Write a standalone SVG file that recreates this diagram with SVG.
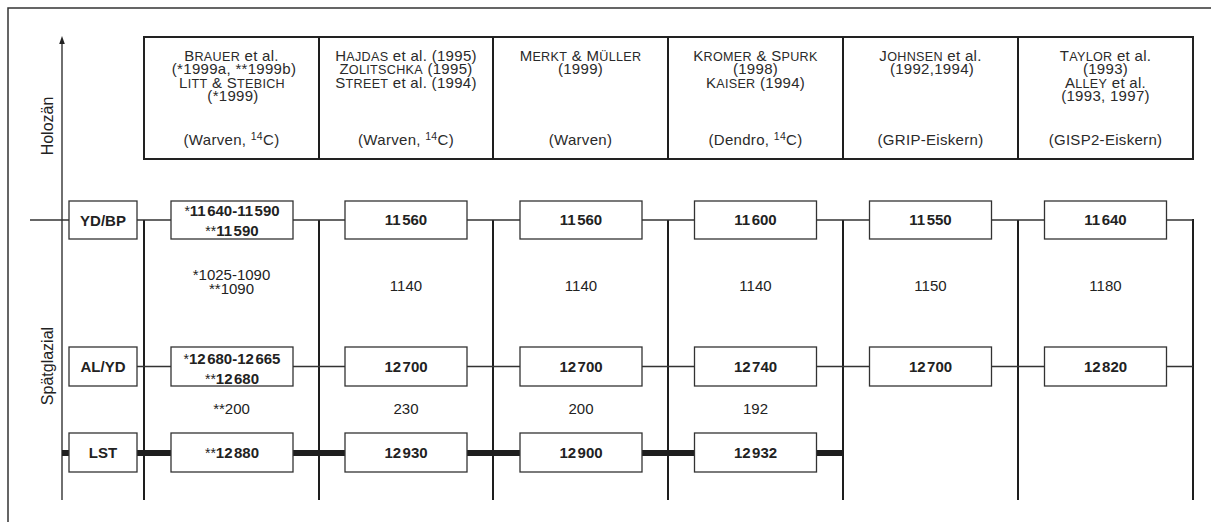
<svg xmlns="http://www.w3.org/2000/svg" width="1211" height="522" viewBox="0 0 1211 522">
<style>
text{font-family:"Liberation Sans",Arial,Helvetica,sans-serif;fill:#222;text-anchor:middle}
.h{font-size:15px;letter-spacing:0.3px;fill:#2a2a2a}
.sc{font-size:12.6px}
.sup{font-size:10.5px}
.v{font-size:16px}
.b{font-size:15px;font-weight:bold}
.a{font-weight:normal;font-size:14px}
.r{font-size:15px}
.box{fill:#fff;stroke:#333;stroke-width:1.3}
.hdr{fill:#fff;stroke:#222;stroke-width:2}
.col{stroke:#1e1e1e;stroke-width:2;fill:none}
.thin{stroke:#333;stroke-width:1.4;fill:none}
.thick{stroke:#1e1e1e;stroke-width:6;fill:none}
</style>
<rect x="8" y="8" width="1215" height="530" fill="#fff" stroke="#333" stroke-width="1.5"/>

<g id="axis">
<line class="thin" x1="62" y1="500" x2="62" y2="42"/>
<polygon points="62,36 59.2,44 64.8,44" fill="#222"/>
<text class="v" transform="translate(53,126) rotate(-90)">Holozän</text>
<text class="v" transform="translate(53,366) rotate(-90)">Spätglazial</text>
</g>

<g id="connectors">
<line class="col" x1="144" y1="220" x2="144" y2="500"/>
<line class="col" x1="319" y1="220" x2="319" y2="500"/>
<line class="col" x1="493" y1="220" x2="493" y2="500"/>
<line class="col" x1="668" y1="220" x2="668" y2="500"/>
<line class="col" x1="843" y1="220" x2="843" y2="500"/>
<line class="col" x1="1018" y1="220" x2="1018" y2="500"/>
<line class="col" x1="1193" y1="219" x2="1193" y2="500"/>
<line class="thin" x1="30" y1="220" x2="1193" y2="220"/>
<line class="thin" x1="137" y1="366.5" x2="1193" y2="366.5"/>
<line class="thick" x1="62" y1="453" x2="843" y2="453"/>
</g>

<g id="header">
<rect class="hdr" x="144" y="37" width="1049" height="122"/>
<line class="col" x1="319" y1="37" x2="319" y2="159"/>
<line class="col" x1="493" y1="37" x2="493" y2="159"/>
<line class="col" x1="668" y1="37" x2="668" y2="159"/>
<line class="col" x1="843" y1="37" x2="843" y2="159"/>
<line class="col" x1="1018" y1="37" x2="1018" y2="159"/>
</g>

<g id="h1">
<text class="h" x="231.5" y="60.5">B<tspan class="sc">RAUER</tspan> et al.</text>
<text class="h" x="234" y="74">(*1999a, **1999b)</text>
<text class="h" x="232" y="87.5">L<tspan class="sc">ITT</tspan> &amp; S<tspan class="sc">TEBICH</tspan></text>
<text class="h" x="233" y="101">(*1999)</text>
<text class="h" x="231.5" y="145">(Warven, <tspan class="sup" dy="-5">14</tspan><tspan dy="5">C)</tspan></text>
</g>
<g id="h2">
<text class="h" x="406" y="60.5">H<tspan class="sc">AJDAS</tspan> et al. (1995)</text>
<text class="h" x="406" y="74">Z<tspan class="sc">OLITSCHKA</tspan> (1995)</text>
<text class="h" x="406" y="87.5">S<tspan class="sc">TREET</tspan> et al. (1994)</text>
<text class="h" x="406" y="145">(Warven, <tspan class="sup" dy="-5">14</tspan><tspan dy="5">C)</tspan></text>
</g>
<g id="h3">
<text class="h" x="580.5" y="60.5">M<tspan class="sc">ERKT</tspan> &amp; M<tspan class="sc">ÜLLER</tspan></text>
<text class="h" x="580.5" y="74">(1999)</text>
<text class="h" x="580.5" y="145">(Warven)</text>
</g>
<g id="h4">
<text class="h" x="755.5" y="60.5">K<tspan class="sc">ROMER</tspan> &amp; S<tspan class="sc">PURK</tspan></text>
<text class="h" x="755.5" y="74">(1998)</text>
<text class="h" x="755.5" y="87.5">K<tspan class="sc">AISER</tspan> (1994)</text>
<text class="h" x="755.5" y="145">(Dendro, <tspan class="sup" dy="-5">14</tspan><tspan dy="5">C)</tspan></text>
</g>
<g id="h5">
<text class="h" x="930.5" y="60.5">J<tspan class="sc">OHNSEN</tspan> et al.</text>
<text class="h" x="932" y="74">(1992,1994)</text>
<text class="h" x="930.5" y="145">(GRIP-Eiskern)</text>
</g>
<g id="h6">
<text class="h" x="1105.5" y="60.5">T<tspan class="sc">AYLOR</tspan> et al.</text>
<text class="h" x="1105.5" y="74">(1993)</text>
<text class="h" x="1105.5" y="87.5">A<tspan class="sc">LLEY</tspan> et al.</text>
<text class="h" x="1105.5" y="101">(1993, 1997)</text>
<text class="h" x="1105.5" y="145">(GISP2-Eiskern)</text>
</g>

<g id="lbl-ydbp">
<rect class="box" x="69" y="201" width="68" height="38"/>
<text class="b" x="103" y="225.5">YD/BP</text>
</g>
<g id="lbl-alyd">
<rect class="box" x="69" y="347" width="68" height="39"/>
<text class="b" x="103" y="372">AL/YD</text>
</g>
<g id="lbl-lst">
<rect class="box" x="69" y="433" width="68" height="39"/>
<text class="b" x="103" y="458">LST</text>
</g>

<!-- column 1 -->
<g id="c1-ydbp">
<rect class="box" x="171" y="201" width="122" height="38"/>
<text class="b" x="232" y="216"><tspan class="a">*</tspan>11<tspan dx="1.5">640-11</tspan><tspan dx="1.5">590</tspan></text>
<text class="b" x="232" y="236"><tspan class="a">**</tspan>11<tspan dx="1.5">590</tspan></text>
</g>
<g id="c1-int1">
<text class="r" x="231.5" y="279.5">*1025-1090</text>
<text class="r" x="231.5" y="293.5">**1090</text>
</g>
<g id="c1-alyd">
<rect class="box" x="171" y="347" width="122" height="39"/>
<text class="b" x="232" y="364"><tspan class="a">*</tspan>12<tspan dx="1.5">680-12</tspan><tspan dx="1.5">665</tspan></text>
<text class="b" x="232" y="384"><tspan class="a">**</tspan>12<tspan dx="1.5">680</tspan></text>
</g>
<text id="c1-int2" class="r" x="231.5" y="413.5">**200</text>
<g id="c1-lst">
<rect class="box" x="171" y="433" width="122" height="39"/>
<text class="b" x="232" y="458"><tspan class="a">**</tspan>12<tspan dx="1.5">880</tspan></text>
</g>

<!-- column 2 -->
<g id="c2-ydbp">
<rect class="box" x="345" y="201" width="122" height="38"/>
<text class="b" x="406" y="224.5">11<tspan dx="1.5">560</tspan></text>
</g>
<text id="c2-int1" class="r" x="406" y="291">1140</text>
<g id="c2-alyd">
<rect class="box" x="345" y="347" width="122" height="39"/>
<text class="b" x="406" y="371.5">12<tspan dx="1.5">700</tspan></text>
</g>
<text id="c2-int2" class="r" x="406" y="413.5">230</text>
<g id="c2-lst">
<rect class="box" x="345" y="433" width="122" height="39"/>
<text class="b" x="406" y="457.5">12<tspan dx="1.5">930</tspan></text>
</g>

<!-- column 3 -->
<g id="c3-ydbp">
<rect class="box" x="520" y="201" width="122" height="38"/>
<text class="b" x="581" y="224.5">11<tspan dx="1.5">560</tspan></text>
</g>
<text id="c3-int1" class="r" x="581" y="291">1140</text>
<g id="c3-alyd">
<rect class="box" x="520" y="347" width="122" height="39"/>
<text class="b" x="581" y="371.5">12<tspan dx="1.5">700</tspan></text>
</g>
<text id="c3-int2" class="r" x="581" y="413.5">200</text>
<g id="c3-lst">
<rect class="box" x="520" y="433" width="122" height="39"/>
<text class="b" x="581" y="457.5">12<tspan dx="1.5">900</tspan></text>
</g>

<!-- column 4 -->
<g id="c4-ydbp">
<rect class="box" x="694.5" y="201" width="122" height="38"/>
<text class="b" x="755.5" y="224.5">11<tspan dx="1.5">600</tspan></text>
</g>
<text id="c4-int1" class="r" x="755.5" y="291">1140</text>
<g id="c4-alyd">
<rect class="box" x="694.5" y="347" width="122" height="39"/>
<text class="b" x="755.5" y="371.5">12<tspan dx="1.5">740</tspan></text>
</g>
<text id="c4-int2" class="r" x="755.5" y="413.5">192</text>
<g id="c4-lst">
<rect class="box" x="694.5" y="433" width="122" height="39"/>
<text class="b" x="755.5" y="457.5">12<tspan dx="1.5">932</tspan></text>
</g>

<!-- column 5 -->
<g id="c5-ydbp">
<rect class="box" x="869.5" y="201" width="122" height="38"/>
<text class="b" x="930.5" y="224.5">11<tspan dx="1.5">550</tspan></text>
</g>
<text id="c5-int1" class="r" x="930.5" y="291">1150</text>
<g id="c5-alyd">
<rect class="box" x="869.5" y="347" width="122" height="39"/>
<text class="b" x="930.5" y="371.5">12<tspan dx="1.5">700</tspan></text>
</g>

<!-- column 6 -->
<g id="c6-ydbp">
<rect class="box" x="1044.5" y="201" width="122" height="38"/>
<text class="b" x="1105.5" y="224.5">11<tspan dx="1.5">640</tspan></text>
</g>
<text id="c6-int1" class="r" x="1105.5" y="291">1180</text>
<g id="c6-alyd">
<rect class="box" x="1044.5" y="347" width="122" height="39"/>
<text class="b" x="1105.5" y="371.5">12<tspan dx="1.5">820</tspan></text>
</g>
</svg>
